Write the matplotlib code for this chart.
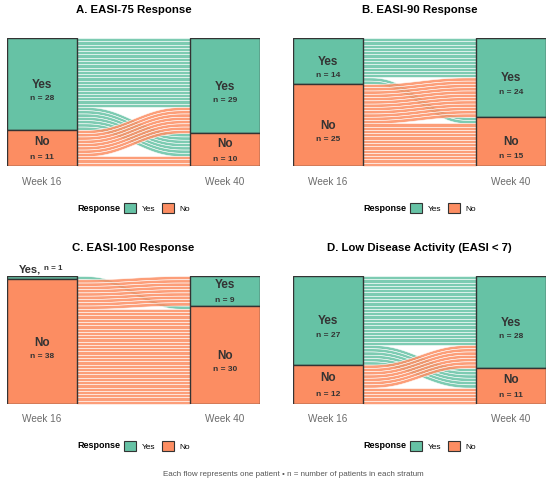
import numpy as np
import matplotlib.pyplot as plt
from matplotlib.patches import Patch
from matplotlib.colors import to_rgba

plt.rcParams["font.family"] = ["Liberation Sans", "DejaVu Sans"]

YES_COL = "#66C2A5"
NO_COL = "#FC8D62"
EDGE = "#333333"

titles = ["A. EASI-75 Response", "B. EASI-90 Response",
          "C. EASI-100 Response", "D. Low Disease Activity (EASI < 7)"]
weeks = ["Week 16", "Week 40"]
responses = ["Yes", "No"]

# patients per transition, week 16 -> week 40
yes_yes = [21, 12, 0, 21]
yes_no = [7, 2, 1, 6]
no_yes = [8, 12, 9, 7]
no_no = [3, 13, 29, 5]

caption = "Each flow represents one patient \u2022 n = number of patients in each stratum"

W, H = 550, 484
fig = plt.figure(figsize=(W / 100, H / 100), dpi=100)

# axes boxes in pixels: left, top, right, bottom
boxes = [(7, 38, 260, 166), (293, 38, 546, 166),
         (7, 276, 260, 404), (293, 276, 546, 404)]

bw = 70 / 183  # stratum width in data units
PX = 0.72      # points per pixel


def smooth(xs, x0, x1):
    t = (xs - x0) / (x1 - x0)
    s = np.clip((t - 0.03) / 0.94, 0, 1)
    return 6 * s ** 5 - 15 * s ** 4 + 10 * s ** 3


def slots(order, counts, total):
    top = total
    out = {}
    for g in order:
        out[g] = [top - i - 1 for i in range(counts[g])]
        top -= counts[g]
    return out


for k, (l, t, r, b) in enumerate(boxes):
    ax = fig.add_axes([l / W, 1 - b / H, (r - l) / W, (b - t) / H])
    counts = {"YY": yes_yes[k], "YN": yes_no[k], "NY": no_yes[k], "NN": no_no[k]}
    total = sum(counts.values())
    y16 = counts["YY"] + counts["YN"]
    n16 = counts["NY"] + counts["NN"]
    y40 = counts["YY"] + counts["NY"]
    n40 = counts["YN"] + counts["NN"]

    # flows, one ribbon per patient
    left = slots(["YY", "YN", "NY", "NN"], counts, total)
    right = slots(["YY", "NY", "YN", "NN"], counts, total)
    x0, x1 = 1 + bw / 2, 2 - bw / 2
    xs = np.linspace(x0, x1, 150)
    f = smooth(xs, x0, x1)
    for g in ["YY", "YN", "NY", "NN"]:
        col = to_rgba(YES_COL if g[0] == "Y" else NO_COL, 0.85)
        for a, c in zip(left[g], right[g]):
            lo = a + (c - a) * f
            ax.fill_between(xs, lo, lo + 1, facecolor=col, edgecolor="white",
                            linewidth=0.4, zorder=1)

    # strata
    for x, ny_, nn_ in [(1, y16, n16), (2, y40, n40)]:
        ax.bar([x, x], [ny_, nn_], bottom=[nn_, 0], width=bw,
               color=[YES_COL, NO_COL], edgecolor=EDGE, linewidth=1.0, zorder=3)
        for name, cnt, bot in [("Yes", ny_, nn_), ("No", nn_, 0)]:
            if cnt == 0:
                continue
            if cnt <= 2:
                ax.annotate(name + ",", xy=(x, bot + cnt), xytext=(-0.5, 7 * PX),
                            textcoords="offset points", ha="right", va="center",
                            fontsize=8, fontweight="bold", color=EDGE)
                ax.annotate(f"n = {cnt}", xy=(x, bot + cnt), xytext=(1.5, 7 * PX),
                            textcoords="offset points", ha="left", va="center",
                            fontsize=5.8, fontweight="bold", color=EDGE)
                continue
            mid = bot + cnt / 2
            d_name, d_n = (-1, -15) if cnt >= 13 else (6, -10)
            ax.annotate(name, xy=(x, mid), xytext=(0, d_name * PX),
                        textcoords="offset points", ha="center", va="center",
                        fontsize=8.5, fontweight="bold", color=EDGE, zorder=4)
            ax.annotate(f"n = {cnt}", xy=(x, mid), xytext=(0, d_n * PX),
                        textcoords="offset points", ha="center", va="center",
                        fontsize=6, fontweight="bold", color=EDGE, zorder=4)

    ax.set_xlim(1 - bw / 2, 2 + bw / 2)
    ax.set_ylim(0, total)
    ax.axis("off")

    for x, wk in zip([1, 2], weeks):
        ax.annotate(wk, xy=(x, 0), xycoords=("data", "axes fraction"),
                    xytext=(0, -15.5 * PX), textcoords="offset points",
                    ha="center", va="center", fontsize=7.2, color="#6b6b6b")

    ax.annotate(titles[k], xy=(0.5, 1), xycoords="axes fraction",
                xytext=(0, 28 * PX), textcoords="offset points",
                ha="center", va="center", fontsize=8.2, fontweight="bold")

    # legend
    ly = -42 / (b - t)
    ax.text(0.447, ly, "Response", transform=ax.transAxes, ha="right",
            va="center", fontsize=6.5, fontweight="bold")
    handles = [Patch(facecolor=YES_COL, edgecolor=EDGE, linewidth=0.8),
               Patch(facecolor=NO_COL, edgecolor=EDGE, linewidth=0.8)]
    ax.legend(handles, responses, loc="center left", bbox_to_anchor=(0.462, ly),
              ncol=2, frameon=False, fontsize=6, borderpad=0, borderaxespad=0,
              handlelength=1.5, handleheight=1.5, handletextpad=0.6,
              columnspacing=0.8)

fig.text(293 / W, 1 - 474 / H, caption, ha="center", va="center",
         fontsize=5.8, color="#555555")

fig.savefig("out.png", dpi=100)
